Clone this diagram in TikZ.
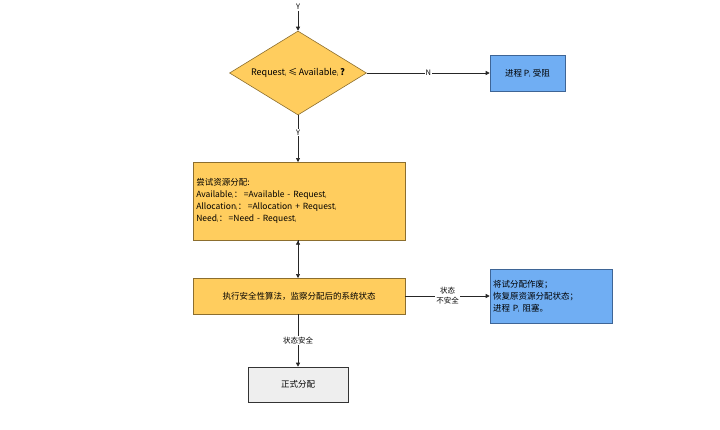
\documentclass[tikz,border=0pt]{standalone}
\usepackage{fontspec}
\setmainfont{Liberation Serif}
\newfontfamily\cjk{Noto Sans CJK SC}
\usetikzlibrary{shapes.geometric,arrows.meta}
\definecolor{org}{HTML}{FFCD5E}
\definecolor{orgd}{HTML}{8C6E2E}
\definecolor{blu}{HTML}{70AEF3}
\definecolor{blud}{HTML}{3E6596}
\definecolor{gry}{HTML}{EEEEEE}
\newcommand{\vi}[1]{\textit{#1}}
\newcommand{\sbi}{\textsubscript{\scalebox{0.7}{\textit{i}}}}
\begin{document}
\begin{tikzpicture}[x=1pt,y=-1pt,
  every node/.style={font=\cjk\fontsize{8.5}{12}\selectfont},
  box/.style={draw=orgd,fill=org,line width=0.6pt,inner sep=3pt},
  bbox/.style={draw=blud,fill=blu,line width=0.6pt,inner sep=3pt},
  arr/.style={-{Triangle[length=4pt,width=4pt]},line width=0.6pt,draw=black!85},
  lab/.style={fill=white,inner sep=1pt,font=\cjk\fontsize{7.5}{10}\selectfont}]
\useasboundingbox (0,0) rectangle (720,429);
\node[lab] (y0) at (298,7) {Y};
\node[diamond,draw=orgd,fill=org,line width=0.6pt,minimum width=137pt,minimum height=84pt,inner sep=0pt] (d) at (298,73) {};
\node at (298,73) {\fontsize{9}{11}\selectfont\vi{Request}\sbi\,{\cjk ≤}\,\vi{Available}\sbi\,\textbf{?}};
\node[bbox,minimum width=75pt,minimum height=36pt] (b1) at (527.5,73) {进程 \vi{P}\sbi\ 受阻};
\node[box,minimum width=212pt,minimum height=78pt,anchor=north west,align=left,text width=206pt] (a) at (193,162)
 {尝试资源分配:\\
 \vi{Available}\sbi：\,=\vi{Available} - \vi{Request}\sbi\\
 \vi{Allocation}\sbi：\,=\vi{Allocation} + \vi{Request}\sbi\\
 \vi{Need}\sbi：\,=\vi{Need} - \vi{Request}\sbi};
\node[box,minimum width=212pt,minimum height=36pt] (s) at (299,296) {执行安全性算法，监察分配后的系统状态};
\node[bbox,minimum width=122pt,minimum height=54pt,align=left,text width=116pt] (b2) at (551,296)
 {将试分配作废；\\恢复原资源分配状态；\\进程 \vi{P}\sbi\ 阻塞。};
\node[draw=black!80,fill=gry,line width=0.6pt,minimum width=100pt,minimum height=35pt] (f) at (298,384.5) {正式分配};
\draw[arr] (y0) -- (d.north);
\draw[arr] (d.east) -- node[lab]{N} (b1.west);
\draw[arr] (d.south) -- node[lab,pos=0.37]{Y} (a.north -| d.south);
\draw[arr] (a.south -| s.north) ++(-1,0) coordinate (t1) ;
\draw[arr] (298,240) coordinate (c1) -- (298,278) coordinate (c2);
\draw[arr] (s.east) -- node[lab,align=center]{状态\\不安全} (b2.west);
\draw[arr] (298,314) -- node[lab]{状态安全} (f.north);
\end{tikzpicture}
\end{document}
